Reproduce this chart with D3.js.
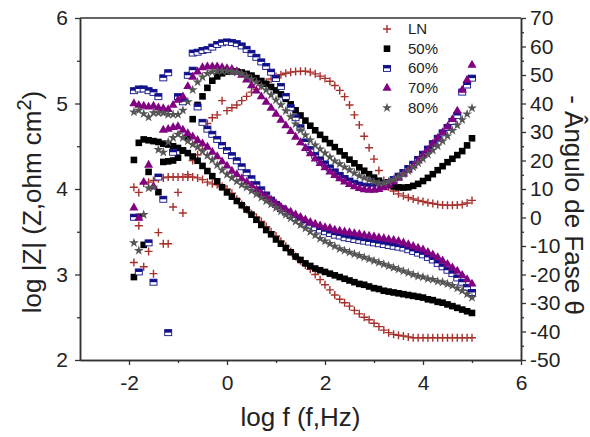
<!DOCTYPE html>
<html>
<head>
<meta charset="utf-8">
<script src="https://cdn.jsdelivr.net/npm/d3@7"></script>
<style>
body { margin: 0; background: #fff; }
</style>
</head>
<body>
<script>
// log f grid shared by every series (10 points per decade)
var logF = [-1.9, -1.8, -1.7, -1.6, -1.5, -1.4, -1.3, -1.2, -1.1, -1.0,
    -0.9, -0.8, -0.7, -0.6, -0.5, -0.4, -0.3, -0.2, -0.1, 0.0,
    0.1, 0.2, 0.3, 0.4, 0.5, 0.6, 0.7, 0.8, 0.9, 1.0,
    1.1, 1.2, 1.3, 1.4, 1.5, 1.6, 1.7, 1.8, 1.9, 2.0,
    2.1, 2.2, 2.3, 2.4, 2.5, 2.6, 2.7, 2.8, 2.9, 3.0,
    3.1, 3.2, 3.3, 3.4, 3.5, 3.6, 3.7, 3.8, 3.9, 4.0,
    4.1, 4.2, 4.3, 4.4, 4.5, 4.6, 4.7, 4.8, 4.9, 5.0];

// log |Z| values (left axis)
var lnZ = [4.02, 3.96, 4.07, 4.08, 4.10, 4.12, 4.13, 4.14, 4.14, 4.14,
    4.14, 4.14, 4.14, 4.13, 4.11, 4.08, 4.06, 4.05, 4.03, 4.00,
    3.95, 3.88, 3.82, 3.76, 3.71, 3.67, 3.62, 3.56, 3.50, 3.45,
    3.39, 3.33, 3.27, 3.21, 3.16, 3.11, 3.06, 3.00, 2.94, 2.88,
    2.82, 2.76, 2.71, 2.67, 2.63, 2.58, 2.54, 2.50, 2.47, 2.43,
    2.39, 2.35, 2.32, 2.30, 2.29, 2.28, 2.27, 2.26, 2.26, 2.26,
    2.26, 2.26, 2.26, 2.26, 2.26, 2.26, 2.26, 2.26, 2.26, 2.26];
var z50 = [4.34, 4.54, 4.58, 4.57, 4.56, 4.55, 4.53, 4.52, 4.50, 4.48,
    4.45, 4.42, 4.38, 4.33, 4.27, 4.21, 4.15, 4.09, 4.02, 3.96,
    3.91, 3.86, 3.81, 3.76, 3.70, 3.64, 3.58, 3.52, 3.47, 3.41,
    3.36, 3.31, 3.26, 3.21, 3.17, 3.13, 3.10, 3.07, 3.05, 3.03,
    3.01, 2.99, 2.97, 2.95, 2.93, 2.91, 2.89, 2.88, 2.86, 2.84,
    2.83, 2.81, 2.80, 2.79, 2.78, 2.77, 2.76, 2.75, 2.74, 2.73,
    2.71, 2.70, 2.68, 2.67, 2.65, 2.63, 2.61, 2.59, 2.57, 2.55];
var z60 = [3.67, 3.03, null, 3.37, 2.91, 4.14, 3.88, 2.32, 4.43, 5.08,
    5.02, 5.33, 5.39, 4.96, 4.78, 4.70, 4.64, 4.58, 4.51, 4.45,
    4.39, 4.33, 4.26, 4.19, 4.12, 4.05, 3.99, 3.93, 3.87, 3.82,
    3.77, 3.73, 3.69, 3.66, 3.63, 3.60, 3.57, 3.55, 3.52, 3.50,
    3.48, 3.46, 3.45, 3.43, 3.42, 3.41, 3.40, 3.39, 3.38, 3.37,
    3.36, 3.35, 3.34, 3.33, 3.32, 3.31, 3.29, 3.27, 3.25, 3.23,
    3.20, 3.17, 3.13, 3.09, 3.05, 3.01, 2.96, 2.91, 2.85, 2.79];
var z70 = [3.78, 3.66, 4.08, 4.28, 4.03, null, 4.69, 4.70, 4.72, 4.73,
    4.69, 4.65, 4.61, 4.57, 4.53, 4.49, 4.43, 4.38, 4.32, 4.27,
    4.21, 4.17, 4.12, 4.08, 4.04, 3.99, 3.95, 3.91, 3.87, 3.83,
    3.79, 3.76, 3.73, 3.70, 3.67, 3.64, 3.61, 3.59, 3.57, 3.55,
    3.54, 3.52, 3.51, 3.50, 3.49, 3.48, 3.47, 3.46, 3.45, 3.44,
    3.43, 3.42, 3.41, 3.40, 3.39, 3.37, 3.35, 3.33, 3.31, 3.29,
    3.26, 3.23, 3.20, 3.16, 3.12, 3.08, 3.04, 2.99, 2.94, 2.89];
var z80 = [3.37, 3.28, 3.70, 4.01, 4.02, 4.46, 4.43, 4.55, 4.60, 4.64,
    4.60, 4.56, 4.52, 4.49, 4.44, 4.39, 4.34, 4.28, 4.22, 4.17,
    4.13, 4.09, 4.05, 4.02, 3.98, 3.94, 3.90, 3.86, 3.82, 3.78,
    3.74, 3.70, 3.66, 3.62, 3.58, 3.54, 3.50, 3.46, 3.42, 3.39,
    3.36, 3.33, 3.30, 3.28, 3.26, 3.24, 3.22, 3.20, 3.18, 3.16,
    3.14, 3.12, 3.10, 3.08, 3.06, 3.04, 3.02, 3.00, 2.98, 2.97,
    2.95, 2.94, 2.92, 2.91, 2.89, 2.87, 2.84, 2.81, 2.77, 2.73];

// - phase angle values in degrees (right axis)
var lnPhase = [-15.8, -2.9, -17.3, -11.9, -19.7, -5.3, -9.2, -9.2, 3.7, 8.8,
    1.6, 15.0, 20.0, 22.0, 24.0, 33.0, 35.0, 36.0, 41.0, 37.5,
    38.5, 39.5, 41.0, 42.5, 44.0, 45.0, 46.3, 47.5, 48.6, 49.5,
    50.1, 50.6, 51.0, 51.2, 51.3, 51.3, 51.0, 50.4, 49.6, 48.8,
    47.8, 46.3, 44.6, 42.4, 39.5, 36.0, 32.5, 28.5, 24.5, 20.5,
    16.5, 13.0, 10.8, 9.3, 8.3, 7.6, 7.0, 6.5, 6.0, 5.6,
    5.2, 4.9, 4.6, 4.4, 4.3, 4.3, 4.4, 4.6, 5.1, 6.0];
var phase50 = [-20.9, 0.2, -9.6, 16.0, null, 8.9, 19.5, 19.7, 20.0, 21.0,
    23.5, 28.0, 34.5, 39.5, 42.5, 45.5, 48.0, 49.5, 50.6, 51.2,
    51.3, 51.2, 50.9, 50.4, 49.8, 48.9, 47.9, 46.9, 45.8, 44.6,
    43.2, 41.6, 39.7, 37.6, 35.8, 34.0, 32.2, 30.6, 29.0, 27.5,
    26.1, 24.7, 23.2, 21.8, 20.3, 19.0, 17.6, 16.4, 15.2, 14.0,
    12.9, 12.1, 11.4, 10.9, 10.6, 10.5, 10.6, 11.1, 11.8, 12.8,
    13.9, 15.2, 16.6, 18.0, 19.4, 20.6, 21.9, 23.3, 25.3, 27.8];
var phase60 = [44.5, 45.1, 45.1, 44.5, 43.9, 42.4, 49.0, 50.8, null, null,
    null, null, 57.7, 58.0, 58.6, 58.9, 59.8, 60.7, 61.3, 61.6,
    61.4, 61.0, 60.2, 59.0, 57.6, 56.2, 54.6, 53.0, 51.0, 48.8,
    46.0, 42.5, 38.5, 35.0, 31.5, 26.5, 23.8, 21.8, 20.2, 18.8,
    17.4, 16.0, 14.8, 13.7, 12.8, 12.0, 11.4, 11.0, 10.8, 10.8,
    11.0, 11.5, 12.3, 13.3, 14.5, 15.8, 17.2, 18.7, 20.4, 22.2,
    24.0, 25.9, 27.8, 29.7, 31.6, 33.7, 35.8, 44.0, 46.5, 48.9];
var phase70 = [40.0, 39.4, 39.1, 38.8, 39.1, 38.5, 38.2, 37.9, 39.4, 41.2,
    42.4, 46.0, 49.3, 51.1, 52.6, 52.9, 52.9, 52.9, 52.6, 52.3,
    52.0, 51.2, 50.0, 48.3, 46.3, 44.4, 42.4, 40.5, 38.4, 36.3,
    34.2, 32.2, 30.2, 28.2, 26.3, 24.3, 22.4, 20.6, 19.0, 17.5,
    16.0, 14.8, 13.6, 12.5, 11.6, 10.8, 10.2, 9.8, 9.6, 9.6,
    9.9, 10.5, 11.4, 12.5, 13.8, 15.2, 16.6, 18.1, 19.9, 21.8,
    23.7, 25.8, 27.8, 29.8, 31.8, 34.4, 37.4, 44.7, 48.2, 53.5];
var phase80 = [37.0, 37.6, 36.4, 35.2, 36.7, 36.7, 36.7, 36.1, 36.1, 36.1,
    37.6, 40.6, 44.8, 47.5, 49.3, 50.5, 51.1, 51.4, 51.4, 51.4,
    51.2, 50.9, 50.4, 49.6, 48.6, 47.5, 46.1, 44.7, 43.0, 41.2,
    39.5, 37.4, 35.3, 32.8, 30.7, 28.9, 27.2, 25.4, 24.0, 22.6,
    21.2, 19.8, 18.8, 17.7, 16.7, 15.6, 14.6, 13.9, 13.2, 12.5,
    12.1, 12.1, 12.6, 13.3, 14.2, 15.2, 16.4, 17.7, 19.1, 20.6,
    22.1, 23.6, 25.1, 26.8, 28.6, 30.5, 32.4, 34.3, 36.3, 38.4];

var seriesNames = ["LN", "50%", "60%", "70%", "80%"];
var xTicks = [-2, 0, 2, 4, 6];
var xMinor = [-1, 1, 3, 5];
var zTicks = [2, 3, 4, 5, 6];
var zMinor = [2.5, 3.5, 4.5, 5.5];
var phaseTicks = [-50, -40, -30, -20, -10, 0, 10, 20, 30, 40, 50, 60, 70];
var phaseMinor = [-45, -35, -25, -15, -5, 5, 15, 25, 35, 45, 55, 65];

var font = "'Liberation Sans', Arial, sans-serif";
var axisColor = "#333";

var svg = d3.select("body").append("svg")
    .attr("width", 590)
    .attr("height", 437);

var x = d3.scaleLinear().domain([-3, 6]).range([80, 521]);
var yZ = d3.scaleLinear().domain([2, 6]).range([360, 18]);
var yP = d3.scaleLinear().domain([-50, 70]).range([360, 18]);

// marker styles, one per sample
var markers = {
    "LN": function(g) {
        g.append("path").attr("d", "M-4,0H4M0,-4V4")
            .attr("stroke", "#a8302c").attr("stroke-width", 1.4).attr("fill", "none");
    },
    "50%": function(g) {
        g.append("rect").attr("x", -3.3).attr("y", -3.3).attr("width", 6.6).attr("height", 6.6)
            .attr("fill", "#000");
    },
    "60%": function(g) {
        g.append("rect").attr("x", -3.5).attr("y", -3).attr("width", 7).attr("height", 6)
            .attr("fill", "#fff").attr("stroke", "#10108a").attr("stroke-width", 0.9);
        g.append("rect").attr("x", -3.5).attr("y", -3).attr("width", 7).attr("height", 3)
            .attr("fill", "#10108a");
    },
    "70%": function(g) {
        g.append("path").attr("d", d3.symbol(d3.symbolTriangle, 36)())
            .attr("fill", "#820082");
    },
    "80%": function(g) {
        g.append("path").attr("d", d3.symbol(d3.symbolStar, 30)())
            .attr("fill", "#555");
    }
};

function drawSeries(name, values, yScale) {
    var pts = [];
    values.forEach(function(v, i) {
        if (v !== null) pts.push([logF[i], v]);
    });
    svg.append("g").selectAll("g")
        .data(pts)
        .enter()
        .append("g")
        .attr("transform", function(d) { return "translate(" + x(d[0]) + "," + yScale(d[1]) + ")"; })
        .each(function() { markers[name](d3.select(this)); });
}

drawSeries("LN", lnZ, yZ);
drawSeries("LN", lnPhase, yP);
drawSeries("50%", z50, yZ);
drawSeries("50%", phase50, yP);
drawSeries("60%", z60, yZ);
drawSeries("60%", phase60, yP);
drawSeries("70%", z70, yZ);
drawSeries("70%", phase70, yP);
drawSeries("80%", z80, yZ);
drawSeries("80%", phase80, yP);

// axes
function styleAxis(g, size) {
    g.selectAll("path.domain").attr("stroke", axisColor).attr("stroke-width", 1.5);
    g.selectAll("line").attr("stroke", axisColor).attr("stroke-width", 1.3);
    g.selectAll("text").attr("font-family", font).attr("font-size", size + "px").attr("fill", "#222");
}
var fmt = function(d) { return String(d); };

var xAxisGroup = svg.append("g").attr("transform", "translate(0,360)")
    .call(d3.axisBottom(x).tickValues(xTicks).tickSize(5).tickSizeOuter(0).tickPadding(10).tickFormat(fmt));
styleAxis(xAxisGroup, 21);
var xMinorGroup = svg.append("g").attr("transform", "translate(0,360)")
    .call(d3.axisBottom(x).tickValues(xMinor).tickSize(3).tickSizeOuter(0).tickFormat(""));
styleAxis(xMinorGroup, 21);

var yAxisGroup = svg.append("g").attr("transform", "translate(80,0)")
    .call(d3.axisLeft(yZ).tickValues(zTicks).tickSize(5).tickSizeOuter(0).tickPadding(7).tickFormat(fmt));
styleAxis(yAxisGroup, 21);
var yMinorGroup = svg.append("g").attr("transform", "translate(80,0)")
    .call(d3.axisLeft(yZ).tickValues(zMinor).tickSize(3).tickSizeOuter(0).tickFormat(""));
styleAxis(yMinorGroup, 21);

var y2AxisGroup = svg.append("g").attr("transform", "translate(521,0)")
    .call(d3.axisRight(yP).tickValues(phaseTicks).tickSize(5).tickSizeOuter(0).tickPadding(4).tickFormat(fmt));
styleAxis(y2AxisGroup, 21);
var y2MinorGroup = svg.append("g").attr("transform", "translate(521,0)")
    .call(d3.axisRight(yP).tickValues(phaseMinor).tickSize(3).tickSizeOuter(0).tickFormat(""));
styleAxis(y2MinorGroup, 21);

// top frame line
svg.append("line")
    .attr("x1", 80).attr("y1", 18).attr("x2", 521).attr("y2", 18)
    .attr("stroke", axisColor).attr("stroke-width", 1.5);

// axis titles
svg.append("text")
    .attr("x", 300.5).attr("y", 426)
    .attr("text-anchor", "middle")
    .attr("font-family", font).attr("font-size", "26px").attr("fill", "#222")
    .text("log f (f,Hz)");

var leftTitle = svg.append("text")
    .attr("transform", "translate(41,202)rotate(-90)")
    .attr("text-anchor", "middle")
    .attr("font-family", font).attr("font-size", "26px").attr("fill", "#222");
leftTitle.append("tspan").text("log |Z| (Z,ohm cm");
leftTitle.append("tspan").attr("dy", -10).attr("font-size", "20px").text("2");
leftTitle.append("tspan").attr("dy", 10).text(")");

svg.append("text")
    .attr("transform", "translate(565,205)rotate(90)")
    .attr("text-anchor", "middle")
    .attr("font-family", font).attr("font-size", "26px").attr("fill", "#222")
    .text("- Ângulo de Fase θ");

// legend
var legend = svg.append("g");
seriesNames.forEach(function(name, i) {
    var ly = 29 + i * 19.7;
    var mg = legend.append("g").attr("transform", "translate(387," + ly + ")");
    markers[name](mg);
    legend.append("text")
        .attr("x", 408).attr("y", ly + 5)
        .attr("font-family", font).attr("font-size", "15px").attr("fill", "#222")
        .text(name);
});
</script>
</body>
</html>
